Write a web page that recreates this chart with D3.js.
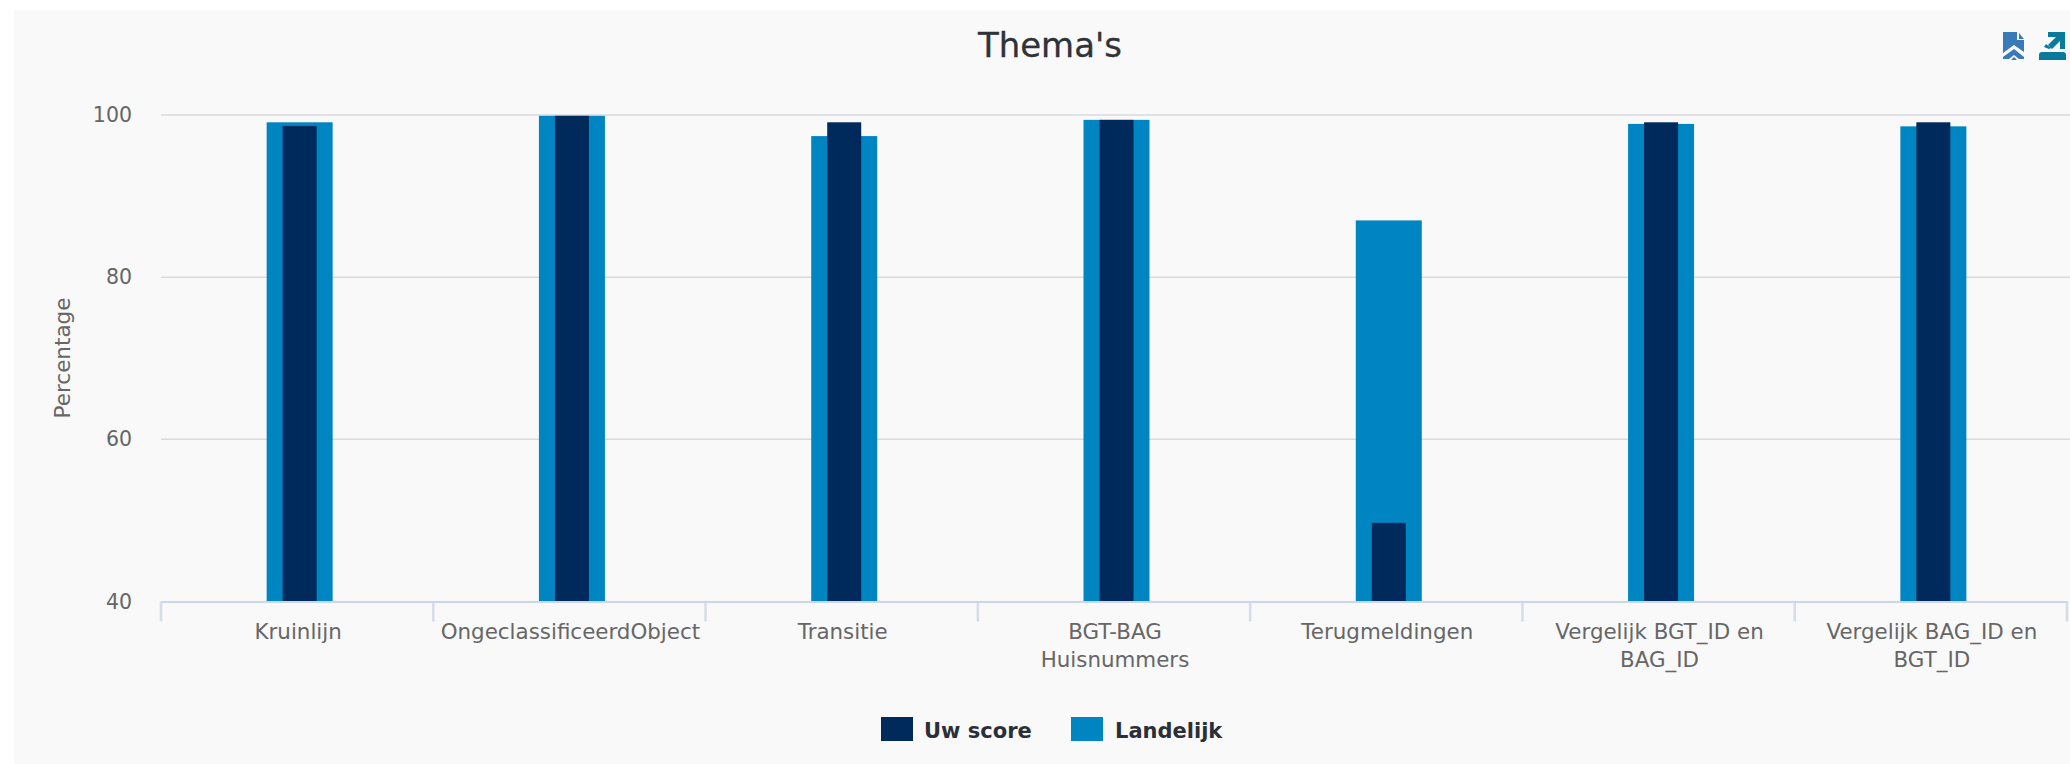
<!DOCTYPE html>
<html><head><meta charset="utf-8">
<script src="https://cdn.jsdelivr.net/npm/d3@7/dist/d3.min.js"></script>
<style>html,body{margin:0;padding:0;background:#fff;overflow:hidden}svg{display:block}text{font-family:"DejaVu Sans",sans-serif}</style>
</head><body><svg id="c" width="2070" height="764"></svg>
<script>
const chartTitle = "Thema's";
const yAxisTitle = "Percentage";
const categories = [["Kruinlijn"],["OngeclassificeerdObject"],["Transitie"],["BGT-BAG","Huisnummers"],["Terugmeldingen"],["Vergelijk BGT_ID en","BAG_ID"],["Vergelijk BAG_ID en","BGT_ID"]];
const landelijk = [99.1, 99.9, 97.4, 99.4, 87.0, 98.9, 98.6];
const uwScore = [98.65, 99.9, 99.1, 99.4, 49.7, 99.1, 99.1];
const yTicks = [40, 60, 80, 100];
const legendNames = ["Uw score", "Landelijk"];
const colors = {uw:"#002a5c", land:"#0085c3"};

const svg = d3.select("#c");
const m = {l:161, r:2067, t:115, b:601.5};
const keys = categories.map((d,i)=>i);
const x = d3.scaleBand().domain(keys).range([m.l,m.r]);
const y = d3.scaleLinear().domain([40,100]).range([m.b,m.t]);
const barShift = 2.5;

svg.append("rect").attr("x",14).attr("y",10).attr("width",2056).attr("height",754).attr("fill","#f9f9f9");
svg.append("text").attr("x",1050).attr("y",57).attr("text-anchor","middle").attr("font-size",33).attr("fill","#2f3338").attr("stroke","#2f3338").attr("stroke-width",.3).attr("textLength",144).attr("lengthAdjust","spacingAndGlyphs").text(chartTitle);

const gy = svg.append("g").attr("transform",`translate(${m.l},0)`).call(d3.axisLeft(y).tickValues(yTicks).tickSize(0).tickPadding(29));
gy.select(".domain").remove();
gy.selectAll("text").attr("font-size",20.5).attr("fill","#666").attr("dy","0.32em").style("font-family",'"DejaVu Sans",sans-serif');
svg.append("g").selectAll("line").data(yTicks.filter(d=>d>40)).join("line")
  .attr("x1",m.l).attr("x2",2070).attr("y1",d=>y(d)).attr("y2",d=>y(d)).attr("stroke","#d8dade").attr("stroke-width",1.5);

svg.append("text").attr("transform",`translate(70,358) rotate(-90)`).attr("text-anchor","middle").attr("font-size",21.5).attr("fill","#666").text(yAxisTitle);

const landW=66, uwW=34;
svg.append("g").selectAll("rect").data(landelijk).join("rect")
  .attr("x",(d,i)=>x(i)+x.bandwidth()/2-landW/2+barShift).attr("width",landW)
  .attr("y",d=>y(d)).attr("height",d=>y(40)-y(d)).attr("fill",colors.land);
svg.append("g").selectAll("rect").data(uwScore).join("rect")
  .attr("x",(d,i)=>x(i)+x.bandwidth()/2-uwW/2+barShift).attr("width",uwW)
  .attr("y",d=>y(d)).attr("height",d=>y(40)-y(d)).attr("fill",colors.uw);

const axisColor="#ccd6eb";
const gx = svg.append("g").attr("transform",`translate(0,${m.b})`).call(d3.axisBottom(x).tickSize(0).tickFormat(""));
gx.select(".domain").attr("stroke",axisColor).attr("stroke-width",2);
gx.selectAll(".tick").remove();
svg.append("g").selectAll("line").data(d3.range(categories.length+1)).join("line")
  .attr("x1",i=>m.l+i*x.bandwidth()).attr("x2",i=>m.l+i*x.bandwidth()).attr("y1",m.b).attr("y2",m.b+20)
  .attr("stroke",axisColor).attr("stroke-width",2.5).attr("opacity",.8);

svg.append("g").selectAll("text").data(categories).join("text")
  .attr("text-anchor","middle").attr("font-size",21.4).attr("fill","#666")
  .each(function(lines,i){
    d3.select(this).selectAll("tspan").data(lines).join("tspan")
      .attr("x",x(i)+x.bandwidth()/2+1).attr("y",(d,j)=>639+j*27.5).text(d=>d);
  });

const lg = [{n:legendNames[0],c:colors.uw,sx:881,tx:924},{n:legendNames[1],c:colors.land,sx:1071,tx:1115}];
const g = svg.append("g");
g.selectAll("rect").data(lg).join("rect").attr("x",d=>d.sx).attr("y",717).attr("width",32).attr("height",24).attr("fill",d=>d.c);
g.selectAll("text").data(lg).join("text").attr("x",d=>d.tx).attr("y",738).attr("font-size",21).attr("font-weight",700).attr("fill","#2b3038").text(d=>d.n);

// export icons
svg.append("path").attr("fill","#3a7ab8").attr("d","M2003 32h14v8h7v12l-10-7-11 8z M2019 33l5 6h-5z M2003 57l11-8 10 8v2h-5l-5-4-5 4h-6z M2011 60l3-3 3 3z");
svg.append("path").attr("fill","#0a7a9c").attr("d","M2039 55q0-3 3-3h21q3 0 3 3v5h-27z M2048 32h17v17h-5v-8l-8 8-4-4 8-8h-8z M2046 44l5 4-2 1-5-2z");
</script></body></html>
